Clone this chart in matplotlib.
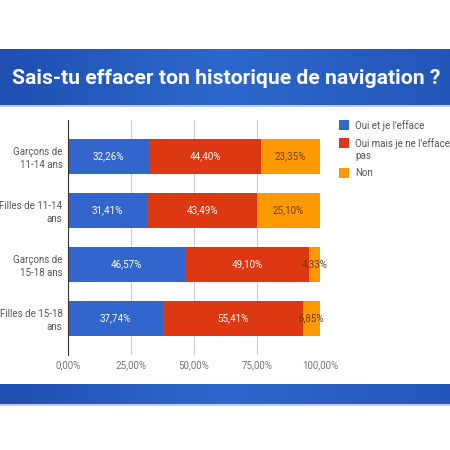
import matplotlib.pyplot as plt
import numpy as np
from matplotlib.patches import Rectangle

# données
groupes = ["Garçons de\n11-14 ans", "Filles de 11-14\nans", "Garçons de\n15-18 ans", "Filles de 15-18\nans"]
series = ["Oui et je l'efface", "Oui mais je ne l'efface\npas", "Non"]
oui_efface = [32.26, 31.41, 46.57, 37.74]
oui_pas = [44.40, 43.49, 49.10, 55.41]
non = [23.35, 25.10, 4.33, 6.85]
ticks = [0, 25, 50, 75, 100]

couleurs = ["#3366cc", "#dc3912", "#ff9900"]
couleurs_txt = ["white", "white", "#6b4000"]

plt.rcParams['font.family'] = ['Roboto', 'DejaVu Sans']

fig = plt.figure(figsize=(4.5, 4.5), dpi=100, facecolor="white")

# bandeau titre et bande du bas en dégradé
def bandeau(y0, h):
    bx = fig.add_axes([0, y0, 1, h])
    grad = np.array([0.0, 0.5, 1.0, 0.6, 0.3])
    xs = np.interp(np.linspace(0, 1, 200), np.linspace(0, 1, len(grad)), grad)
    c1 = np.array([0x1f, 0x4f, 0xb0]) / 255
    c2 = np.array([0x2e, 0x68, 0xcc]) / 255
    img = (c1[None, :] * (1 - xs[:, None]) + c2[None, :] * xs[:, None])[None, :, :]
    bx.imshow(img, aspect="auto", extent=[0, 1, 0, 1])
    bx.axis("off")
    return bx

bandeau(1 - 105 / 450, 56 / 450)
fig.add_artist(Rectangle((0, 1 - 107 / 450), 1, 2 / 450, transform=fig.transFigure, color="#b8cff0", lw=0))
bandeau(1 - 404 / 450, 20 / 450)
fig.add_artist(Rectangle((0, 1 - 406 / 450), 1, 2 / 450, transform=fig.transFigure, color="#b8cff0", lw=0))

fig.text(0.503, 1 - 78 / 450, "Sais-tu effacer ton historique de navigation ?", color="white",
         fontsize=15.2, fontweight="bold", family="Roboto", fontstretch="condensed",
         ha="center", va="center")

ax = fig.add_axes([68 / 450, 1 - 355 / 450, 252 / 450, 235 / 450])
y = np.arange(len(groupes))
gauche = np.zeros(len(groupes))
for vals, col, ctxt in zip([oui_efface, oui_pas, non], couleurs, couleurs_txt):
    bars = ax.barh(y, vals, left=gauche, height=0.65, color=col, zorder=3)
    for b, v in zip(bars, vals):
        ax.text(b.get_x() + b.get_width() / 2, b.get_y() + b.get_height() / 2,
                f"{v:.2f}%".replace(".", ","), ha="center", va="center",
                color=ctxt, fontsize=7, zorder=4)
    gauche += np.array(vals)

ax.set_xlim(0, 100)
ax.set_ylim(3.68, -0.67)
ax.set_xticks(ticks)
ax.set_xticklabels([f"{t:.2f}%".replace(".", ",") for t in ticks], color="#757575", fontsize=7)
ax.set_yticks(y)
ax.set_yticklabels(groupes, color="#555555", fontsize=7, linespacing=1.3)
ax.tick_params(axis="y", length=0, pad=4)
ax.tick_params(axis="x", length=0, pad=4)
ax.grid(axis="x", color="#cccccc", lw=0.8, zorder=0)
for s in ["top", "right", "bottom"]:
    ax.spines[s].set_visible(False)
ax.spines["left"].set_color("#333333")
ax.spines["left"].set_zorder(5)

# légende
ly = [125, 143, 173]
for nom, col, yy in zip(series, couleurs, ly):
    fig.add_artist(Rectangle((339 / 450, 1 - (yy + 5) / 450), 10 / 450, 10 / 450,
                             transform=fig.transFigure, color=col, lw=0))
    fig.text(355 / 450, 1 - (yy - 5) / 450, nom, color="#555555", fontsize=7,
             va="top", ha="left", linespacing=1.3)

fig.savefig("out.png", dpi=100)
